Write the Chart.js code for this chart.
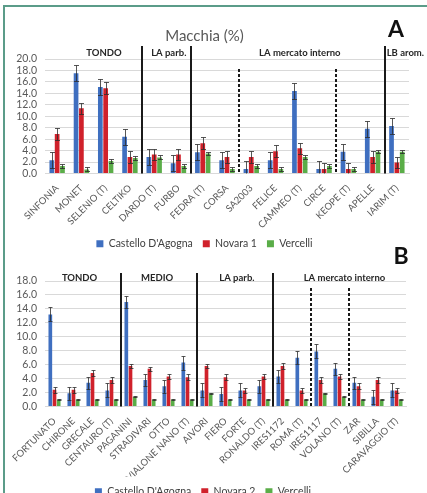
<!DOCTYPE html>
<html>
<head>
<meta charset="utf-8">
<script src="https://cdn.jsdelivr.net/npm/chart.js"></script>
<style>
html, body { margin: 0; padding: 0; background: #fff; overflow: hidden; width: 427px; height: 493px; }
#marco { position: absolute; left: 3px; top: 5px; width: 440px; height: 500px; border-top: 2px solid #5b9c89; border-left: 2px solid #5b9c89; }
#graf_a { position: absolute; left: 0; top: 0; }
#graf_b { position: absolute; left: 0; top: 238px; }
</style>
</head>
<body>
<div id="marco"></div>
<canvas id="graf_a" width="427" height="262"></canvas>
<canvas id="graf_b" width="427" height="274"></canvas>
<script>
// panel A
var variedades_a = ['SINFONIA', 'MONET', 'SELENIO (T)', 'CELTIKO', 'DARDO (T)', 'FURBO', 'FEDRA (T)', 'CORSA',
    'SA2003', 'FELICE', 'CAMMEO (T)', 'CIRCE', 'KEOPE (T)', 'APELLE', 'IARIM (T)']
var castello_a = [2.3, 17.5, 15.1, 6.4, 2.9, 1.8, 3.7, 2.3, 0.8, 2.3, 14.4, 0.8, 3.8, 7.8, 8.3]
var novara1_a = [6.9, 11.4, 14.9, 2.9, 3.3, 3.3, 5.3, 2.9, 2.9, 3.9, 4.4, 0.8, 0.8, 2.9, 1.9]
var vercelli_a = [1.3, 0.7, 2.2, 2.7, 2.8, 1.3, 3.5, 0.8, 1.3, 0.8, 2.9, 1.3, 0.8, 3.8, 3.8]
var err_castello_a = [1.4, 1.4, 1.4, 1.4, 1.4, 1.4, 1.4, 1.4, 1.4, 1.4, 1.4, 1.4, 1.4, 1.4, 1.4]
var err_novara1_a = [1.0, 1.0, 1.0, 1.0, 1.0, 1.0, 1.0, 1.0, 1.0, 1.0, 1.0, 1.0, 1.0, 1.0, 1.0]
var err_vercelli_a = [0.35, 0.35, 0.35, 0.4, 0.35, 0.35, 0.3, 0.35, 0.35, 0.35, 0.4, 0.35, 0.35, 0.3, 0.3]
var grupos_a = ['TONDO', 'LA parb.', 'LA mercato interno', 'LB arom.']
var cortes_a = [3, 5, 13]
var cortes_punteados_a = [7, 11]

// panel B
var variedades_b = ['FORTUNATO', 'CHIRONE', 'GRECALE', 'CENTAURO (T)', 'PAGANINI', 'STRADIVARI', 'OTTO',
    'VIALONE NANO (T)', 'AIVORI', 'FIERO', 'FORTE', 'RONALDO (T)', 'IRES1172', 'ROMA (T)', 'IRES1117',
    'VOLANO (T)', 'ZAR', 'SIBILLA', 'CARAVAGGIO (T)']
var castello_b = [13.2, 1.9, 3.4, 2.3, 15.0, 3.8, 2.9, 6.3, 2.3, 1.8, 2.3, 2.9, 4.3, 7.0, 7.9, 5.4, 3.4, 1.4, 2.3]
var novara2_b = [2.4, 2.4, 4.8, 3.8, 5.8, 5.4, 4.3, 4.2, 5.8, 4.2, 2.3, 4.3, 5.8, 2.3, 3.8, 4.3, 2.9, 3.8, 2.3]
var vercelli_b = [1.0, 1.0, 1.0, 1.0, 1.4, 1.0, 1.0, 1.0, 1.9, 1.0, 1.0, 1.0, 1.0, 1.0, 1.9, 1.4, 1.0, 1.0, 1.0]
var err_castello_b = [1.0, 0.9, 0.9, 1.0, 0.9, 0.9, 0.9, 1.0, 1.0, 1.0, 1.0, 0.9, 1.0, 0.9, 1.0, 0.9, 0.9, 1.0, 1.0]
var err_novara2_b = [0.4, 0.4, 0.4, 0.4, 0.3, 0.3, 0.4, 0.4, 0.3, 0.4, 0.4, 0.4, 0.4, 0.3, 0.4, 0.4, 0.4, 0.4, 0.4]
var err_vercelli_b = [0.1, 0.1, 0.1, 0.1, 0.1, 0.1, 0.1, 0.1, 0.1, 0.1, 0.1, 0.1, 0.1, 0.1, 0.1, 0.1, 0.1, 0.1, 0.1]
var grupos_b = ['TONDO', 'MEDIO', 'LA parb.', 'LA mercato interno']
var cortes_b = [3, 7, 11]
var cortes_punteados_b = [13, 15]

var fuente = "Lato, 'Liberation Sans', sans-serif"
var azul = '#3f6fc0', rojo = '#d0212b', verde = '#5aad48'
Chart.defaults.font.family = fuente
Chart.defaults.color = '#595959'

var extras = {
    id: 'extras',
    afterDatasetsDraw: function (chart, args, op) {
        var ctx = chart.ctx, x = chart.scales.x, y = chart.scales.y, area = chart.chartArea
        ctx.save()
        // barras de error
        ctx.strokeStyle = 'rgba(45,45,45,0.8)'
        ctx.lineWidth = 1
        chart.data.datasets.forEach(function (ds, i) {
            var meta = chart.getDatasetMeta(i)
            meta.data.forEach(function (barra, j) {
                var v = ds.data[j], e = ds.errores[j]
                var arriba = Math.round(y.getPixelForValue(v + e)) + 0.5
                var abajo = Math.min(Math.round(y.getPixelForValue(v - e)) + 0.5, area.bottom)
                var cx = Math.round(barra.x) + 0.5
                ctx.beginPath()
                ctx.moveTo(cx, arriba); ctx.lineTo(cx, abajo)
                ctx.moveTo(cx - op.tapa, arriba); ctx.lineTo(cx + op.tapa, arriba)
                if (v - e > 0) { ctx.moveTo(cx - op.tapa, abajo); ctx.lineTo(cx + op.tapa, abajo) }
                ctx.stroke()
            })
        })
        // separadores
        ctx.strokeStyle = '#1a1a1a'
        ctx.lineWidth = 2
        op.cortes.forEach(function (c) {
            var px = Math.round(x.getPixelForValue(c + 0.5))
            ctx.beginPath(); ctx.moveTo(px, op.y_solido); ctx.lineTo(px, area.bottom); ctx.stroke()
        })
        ctx.setLineDash([3, 2])
        op.punteados.forEach(function (c) {
            var px = Math.round(x.getPixelForValue(c + 0.5))
            ctx.beginPath(); ctx.moveTo(px, op.y_punteado); ctx.lineTo(px, area.bottom); ctx.stroke()
        })
        ctx.setLineDash([])
        // nombres de grupos
        ctx.fillStyle = '#262626'
        ctx.font = 'bold 9.5px ' + fuente
        ctx.textBaseline = 'middle'
        op.grupos.forEach(function (g, k) {
            ctx.textAlign = op.alinear[k]
            ctx.fillText(g, x.getPixelForValue(op.anclas[k]), op.y_grupos)
        })
        ctx.textAlign = 'center'
        ctx.font = 'bold 23px ' + fuente
        ctx.fillStyle = '#111'
        ctx.fillText(op.letra, op.letra_x, op.letra_y)
        ctx.restore()
    }
}

function crear_grafica({ id, etiquetas, series, nombres, errores, maximo, titulo, eje_x, relleno, extras_op }) {
    var colores = [azul, rojo, verde]
    var datasets = series.map(function (s, i) {
        return {
            label: nombres[i], data: s, errores: errores[i], backgroundColor: colores[i],
            categoryPercentage: 0.66, barPercentage: 0.88
        }
    })
    return new Chart(document.getElementById(id), {
        type: 'bar',
        data: { labels: etiquetas, datasets: datasets },
        plugins: [extras],
        options: {
            responsive: false,
            animation: false,
            layout: { padding: relleno },
            plugins: {
                title: titulo,
                legend: {
                    position: 'bottom',
                    labels: { boxWidth: 7, boxHeight: 7, color: '#404040', font: { size: 10.5 }, padding: 10 }
                },
                tooltip: { enabled: false },
                extras: extras_op
            },
            scales: {
                x: {
                    grid: { display: false },
                    border: { color: '#d9d9d9' },
                    ticks: { color: '#595959', font: { size: 9.5 }, maxRotation: 45, minRotation: 45, autoSkip: false, padding: 1 },
                    afterFit: function (s) { s.height = eje_x }
                },
                y: {
                    min: 0, max: maximo,
                    ticks: {
                        stepSize: 2, autoSkip: false, color: '#595959', font: { size: 10.5, lineHeight: 1 }, padding: 8,
                        callback: function (v) { return v.toFixed(1) }
                    },
                    grid: { color: '#d9d9d9', drawTicks: false },
                    border: { display: false },
                    afterFit: function (s) { s.width = 45 }
                }
            }
        }
    })
}

crear_grafica({
    id: 'graf_a', etiquetas: variedades_a,
    series: [castello_a, novara1_a, vercelli_a],
    nombres: ["Castello D'Agogna", 'Novara 1', 'Vercelli'],
    errores: [err_castello_a, err_novara1_a, err_vercelli_a],
    maximo: 20,
    titulo: { display: true, text: 'Macchia (%)', color: '#595959', font: { size: 15, weight: 'normal' }, padding: { top: 27, bottom: 14 } },
    eje_x: 55,
    relleno: { left: 0, right: 18, top: 0, bottom: 3 },
    extras_op: {
        tapa: 2.5, cortes: cortes_a, punteados: cortes_punteados_a, grupos: grupos_a,
        anclas: [1.93, 4.6, 10.0, 13.58], alinear: ['center', 'center', 'center', 'left'],
        y_grupos: 53, y_solido: 46, y_punteado: 69,
        letra: 'A', letra_x: 396, letra_y: 30
    }
})

crear_grafica({
    id: 'graf_b', etiquetas: variedades_b,
    series: [castello_b, novara2_b, vercelli_b],
    nombres: ["Castello D'Agogna", 'Novara 2', 'Vercelli'],
    errores: [err_castello_b, err_novara2_b, err_vercelli_b],
    maximo: 18,
    titulo: { display: false },
    eje_x: 70,
    relleno: { left: 0, right: 21, top: 43, bottom: 5 },
    extras_op: {
        tapa: 2, cortes: cortes_b, punteados: cortes_punteados_b, grupos: grupos_b,
        anclas: [1.32, 5.4, 9.6, 15.26], alinear: ['center', 'center', 'center', 'center'],
        y_grupos: 40, y_solido: 35, y_punteado: 50,
        letra: 'B', letra_x: 401, letra_y: 19
    }
})
</script>
</body>
</html>
